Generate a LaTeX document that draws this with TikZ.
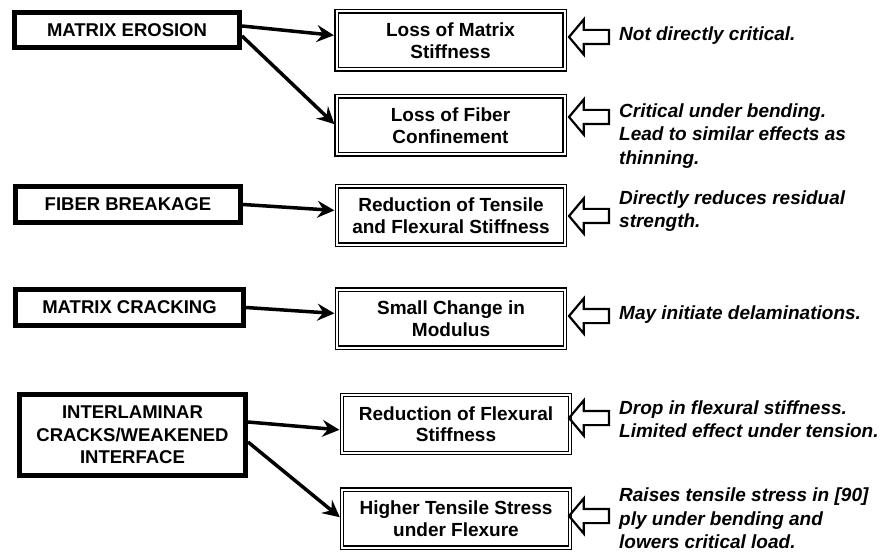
\documentclass[tikz,border=0pt]{standalone}
\usepackage{fontspec}
\setmainfont{Liberation Sans}
\usetikzlibrary{arrows.meta,shapes.arrows}

\begin{document}
\begin{tikzpicture}[x=1pt,y=-1pt,
        cause/.style={draw,line width=5pt,fill=white,align=center,inner sep=0pt,
            font=\bfseries\fontsize{18.5}{22.5}\selectfont},
        effect/.style={draw,double,line width=1.3pt,double distance=2pt,align=center,
            minimum width=228pt,minimum height=58pt,inner sep=0pt,
            font=\bfseries\fontsize{19}{21.5}\selectfont},
        note/.style={anchor=west,align=left,inner sep=0pt,
            font=\bfseries\itshape\fontsize{19}{23.5}\selectfont},
        hollow/.style={draw,single arrow,shape border rotate=180,line width=2.2pt,
            minimum height=40pt,inner sep=6pt,single arrow head extend=10.5pt,
            single arrow tip angle=100},
        link/.style={line width=3.5pt,shorten >=2pt,
            -{Stealth[length=17pt,width=17pt,inset=6pt]}}]
        \useasboundingbox (0,0) rectangle (893,553);
        \node[cause,minimum width=225pt,minimum height=35pt] (me) at (127,30) {MATRIX EROSION};
        \node[cause,minimum width=225pt,minimum height=36pt] (fb) at (128,204.5) {FIBER BREAKAGE};
        \node[cause,minimum width=228pt,minimum height=36pt] (mc) at (129.5,307.5) {MATRIX CRACKING};
        \node[cause,minimum width=226pt,minimum height=81pt] (ic) at (132.5,435) {INTERLAMINAR\\CRACKS/WEAKENED\\INTERFACE};
        \node[effect] (lms) at (450.5,40.5) {Loss of Matrix\\Stiffness};
        \node[effect] (lfc) at (450.5,125.5) {Loss of Fiber\\Confinement};
        \node[effect] (rts) at (451,215.5) {Reduction of Tensile\\and Flexural Stiffness};
        \node[effect] (scm) at (451,318.5) {Small Change in\\Modulus};
        \node[effect] (rfs) at (456,424) {Reduction of Flexural\\Stiffness};
        \node[effect] (hts) at (456,518.5) {Higher Tensile Stress\\under Flexure};
        \foreach \y [count=\i] in {37,117,216,316,418,516}{
            \node[hollow] (h\i) at (592,\y) {};
        }
        \node[note] (n1) at (619,36) {Not directly critical.};
        \node[note] (n2) at (619,136) {Critical under bending.\\Lead to similar effects as\\thinning.};
        \node[note] (n3) at (619,211) {Directly reduces residual\\strength.};
        \node[note] (n4) at (619,315) {May initiate delaminations.};
        \node[note] (n5) at (619,419) {Drop in flexural stiffness.\\Limited effect under tension.};
        \node[note] (n6) at (619,518.5) {Raises tensile stress in [90]\\ply under bending and\\lowers critical load.};
        \draw[link] ([yshift=4pt]me.east) -- ([yshift=5pt]lms.west);
        \draw[link] ([yshift=-6pt]me.east) -- (lfc.west);
        \draw[link] (fb.east) -- ([yshift=5pt]rts.west);
        \draw[link] (mc.east) -- ([yshift=5pt]scm.west);
        \draw[link] ([yshift=13pt]ic.east) -- ([yshift=-6pt]rfs.west);
        \draw[link] ([yshift=-7pt]ic.east) -- (hts.west);
\end{tikzpicture}
\end{document}
